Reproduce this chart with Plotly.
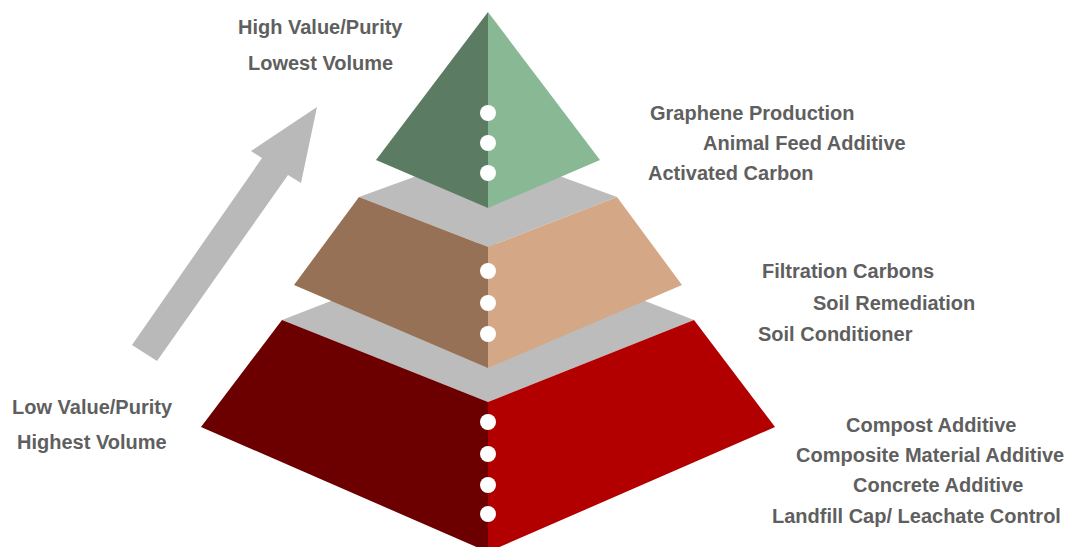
import plotly.graph_objects as go

W, H = 1068, 547
CX = 488

# Tier geometry (pixel-space units of the diagram canvas)
tier_names = ["base", "middle", "top"]
top_half_w = [206, 129]
top_side_y = [320, 197]
top_front_y = [402, 247]
top_back_y = [240, 150]
bot_half_w = [287, 194]
bot_side_y = [427, 285]
bot_front_y = [547, 363]
left_colors = ["#6c0000", "#977155"]
right_colors = ["#b20000", "#d4a886"]
gray_top = "#bcbcbc"

# Apex pyramid
apex_y = 12
apex_base_half_w = 112
apex_base_side_y = 160
apex_base_front_y = 208
apex_left_color = "#5b7c62"
apex_right_color = "#88b894"

# Arrow outline
arrow_x = [317, 301, 288, 157, 132, 262, 251]
arrow_y = [107, 183, 175, 361, 345, 158, 151]
arrow_color = "#b9b9b9"

# Bullet dots on the front edge
dot_y = [113, 143, 173, 271, 303, 334, 422, 454, 485, 514]

# Labels
labels = ["Graphene Production", "Animal Feed Additive", "Activated Carbon",
          "Filtration Carbons", "Soil Remediation", "Soil Conditioner",
          "Compost Additive", "Composite Material Additive", "Concrete Additive",
          "Landfill Cap/ Leachate Control"]
label_x = [752, 804, 731, 848, 894, 835, 931, 930, 938, 916]
label_y = [113, 143, 173, 271, 303, 334, 425, 455, 485, 516]

side_labels = ["High Value/Purity", "Lowest Volume", "Low Value/Purity", "Highest Volume"]
side_x = [320, 320, 92, 92]
side_y = [27, 63, 407, 442]

text_color = "#5f5f5f"
FONT = "Liberation Sans, Arial, sans-serif"

fig = go.Figure()

def poly(xs, ys, color):
    fig.add_trace(go.Scatter(x=xs + [xs[0]], y=ys + [ys[0]], mode="lines",
                             fill="toself", fillcolor=color,
                             line=dict(width=0, color=color),
                             hoverinfo="skip", showlegend=False))

for i in range(len(top_half_w)):
    tw, bw = top_half_w[i], bot_half_w[i]
    poly([CX - tw, CX, CX + tw, CX],
         [top_side_y[i], top_back_y[i], top_side_y[i], top_front_y[i]], gray_top)
    poly([CX - tw, CX, CX, CX - bw],
         [top_side_y[i], top_front_y[i], bot_front_y[i] + 5, bot_side_y[i]], left_colors[i])
    poly([CX, CX + tw, CX + bw, CX],
         [top_front_y[i], top_side_y[i], bot_side_y[i], bot_front_y[i] + 5], right_colors[i])

poly([CX, CX - apex_base_half_w, CX], [apex_y, apex_base_side_y, apex_base_front_y], apex_left_color)
poly([CX, CX, CX + apex_base_half_w], [apex_y, apex_base_front_y, apex_base_side_y], apex_right_color)

poly(arrow_x, arrow_y, arrow_color)

fig.add_trace(go.Scatter(x=[CX] * len(dot_y), y=dot_y, mode="markers",
                         marker=dict(size=16, color="white", line=dict(width=0)),
                         hoverinfo="skip", showlegend=False))

for t, x, y in zip(labels + side_labels, label_x + side_x, label_y + side_y):
    fig.add_annotation(x=x, y=y, text=f"<b>{t}</b>", showarrow=False,
                       xanchor="center", yanchor="middle",
                       font=dict(family=FONT, size=20, color=text_color))

fig.update_layout(
    width=W, height=H, autosize=False,
    margin=dict(l=0, r=0, t=0, b=0),
    paper_bgcolor="white", plot_bgcolor="white",
    hovermode=False,
    xaxis=dict(range=[0, W], visible=False, fixedrange=True),
    yaxis=dict(range=[H, 0], visible=False, fixedrange=True),
)
fig.write_html(
    "out.html",
    config={"displayModeBar": False, "staticPlot": True},
    post_script="document.body.style.margin='0';document.body.style.overflow='hidden';",
)
